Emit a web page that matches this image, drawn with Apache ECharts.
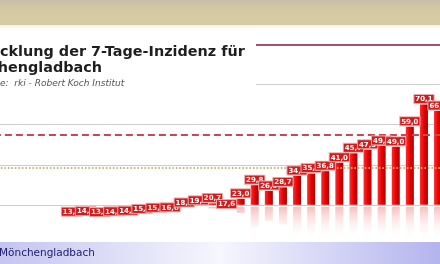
<!DOCTYPE html>
<html><head><meta charset="utf-8">
<script src="https://cdn.jsdelivr.net/npm/echarts@6/dist/echarts.min.js"></script>
<style>html,body{margin:0;padding:0;background:#fff;overflow:hidden}#c{width:440px;height:264px}</style>
</head><body><div id="c"></div>
<script>
// ---- data ----
const titleLine1 = 'Entwicklung der 7-Tage-Inzidenz für';
const titleLine2 = 'Mönchengladbach';
const sourceLine = 'Datenquelle:  rki - Robert Koch Institut';
const footerText = 'Mönchengladbach';
const days = ['T1','T2','T3','T4','T5','T6','T7','T8','T9','T10','T11','T12','T13','T14','T15','T16','T17',
  'T18','T19','T20','T21','T22','T23','T24','T25','T26','T27','T28','T29','T30','T31','T32','T33'];
const incidence = [null, null, null, null, null,
  13.8, 14.1, 13.6, 14.0, 14.3, 15.2, 15.8, 16.0, 18.4, 19.5, 20.7, 17.6, 23.0, 29.8, 26.9, 28.7,
  34.4, 35.6, 36.8, 41.0, 45.7, 47.5, 49.4, 49.0, 59.0, 70.1, 66.8, 86.2];
const yMin = 20, yMax = 100, yStep = 20;
const dashedLevel = 55;
const dottedLevel = 38.5;
const topLevel = 100;

// ---- helpers ----
const mctx = document.createElement('canvas').getContext('2d');
function tw(t, font) { mctx.font = font; return mctx.measureText(t).width; }
const f1 = 'bold 14.4px "DejaVu Sans"';
const f3 = 'italic 9px "DejaVu Sans"';
const off1 = tw('Entwi', f1);
const off3 = tw('Datenquell', f3);
const fmt = v => (v == null ? '' : v.toFixed(1).replace('.', ','));

const chart = echarts.init(document.getElementById('c'));
const gridL = -6.1, gridW = 465.3;
chart.setOption({
  animation: false,
  backgroundColor: '#ffffff',
  grid: [
    { left: gridL, width: gridW, top: 44.6, height: 160.2, outerBoundsMode: 'none', containLabel: false },
    { left: gridL, width: gridW, top: 207, height: 35, outerBoundsMode: 'none', containLabel: false }
  ],
  xAxis: [
    { type: 'category', data: days, gridIndex: 0, show: false },
    { type: 'category', data: days, gridIndex: 1, show: false }
  ],
  yAxis: [
    { type: 'value', gridIndex: 0, min: yMin, max: yMax, interval: yStep,
      axisLine: { show: false }, axisTick: { show: false }, axisLabel: { show: false },
      splitLine: { show: true, lineStyle: { color: '#cdcdcd', width: 1 } } },
    { type: 'value', gridIndex: 1, inverse: true, min: yMin, max: yMin + 35 / 2.0025, show: false,
      splitLine: { show: false } }
  ],
  series: [
    {
      type: 'bar', xAxisIndex: 0, yAxisIndex: 0, data: incidence, barWidth: 8, z: 2,
      itemStyle: { color: new echarts.graphic.LinearGradient(0, 0, 1, 0, [
        { offset: 0, color: '#ff2e2e' }, { offset: 0.55, color: '#e40000' }, { offset: 1, color: '#a80000' }]) },
      markLine: {
        silent: true, symbol: 'none', label: { show: false }, animation: false,
        data: [
          { yAxis: dashedLevel, lineStyle: { color: '#cc4656', width: 2, type: [7, 4] } },
          { yAxis: dottedLevel, lineStyle: { color: '#c4b474', width: 2, type: [1.5, 2] } },
          { yAxis: topLevel, lineStyle: { color: '#a3566a', width: 2, type: 'solid' } }
        ]
      }
    },
    {
      type: 'bar', xAxisIndex: 1, yAxisIndex: 1, data: incidence, barWidth: 8, silent: true,
      itemStyle: { color: new echarts.graphic.LinearGradient(0, 207, 0, 240, [
        { offset: 0, color: 'rgba(235,40,40,0.30)' }, { offset: 1, color: 'rgba(255,255,255,0)' }], true) }
    },
    {
      type: 'line', xAxisIndex: 0, yAxisIndex: 0, data: incidence, clip: false, z: 5,
      symbol: 'rect', symbolSize: 1, showSymbol: true, showAllSymbol: true,
      itemStyle: { color: 'rgba(0,0,0,0)' }, lineStyle: { width: 0, opacity: 0 },
      label: {
        show: true, position: 'top', distance: 1, formatter: p => fmt(p.value),
        color: '#ffffff', fontFamily: 'DejaVu Sans', fontWeight: 'bold', fontSize: 7, lineHeight: 7,
        backgroundColor: '#d01c1c', borderColor: '#f2aaaa', borderWidth: 1, padding: [1, 1, 0, 1]
      }
    }
  ],
  graphic: [
    { type: 'rect', z: 100, shape: { x: 0, y: 0, width: 440, height: 25 },
      style: { fill: new echarts.graphic.LinearGradient(0, 0, 0, 1, [
        { offset: 0, color: '#c7bfa8' }, { offset: 0.3, color: '#d2c7a2' }, { offset: 1, color: '#d6cca3' }]) } },
    { type: 'rect', z: 100, shape: { x: 0, y: 25, width: 440, height: 4 },
      style: { fill: new echarts.graphic.LinearGradient(0, 0, 0, 1, [
        { offset: 0, color: '#f3ece4' }, { offset: 1, color: '#ffffff' }]) } },
    { type: 'rect', z: 100, shape: { x: 0, y: 30, width: 256, height: 66 }, style: { fill: '#ffffff' } },
    { type: 'text', z: 101, style: { text: titleLine1, x: -off1, y: 52, font: f1, fill: '#1e1e1e', verticalAlign: 'middle' } },
    { type: 'text', z: 101, style: { text: titleLine2, x: -off1, y: 68, font: f1, fill: '#1e1e1e', verticalAlign: 'middle' } },
    { type: 'text', z: 101, style: { text: sourceLine, x: -off3, y: 84, font: f3, fill: '#555555', verticalAlign: 'middle' } },
    { type: 'rect', z: 100, shape: { x: 0, y: 242, width: 440, height: 22 },
      style: { fill: new echarts.graphic.LinearGradient(0, 0, 1, 0, [
        { offset: 0, color: '#c4c4f0' }, { offset: 0.5, color: '#f6f6fd' }, { offset: 1, color: '#b4b4ee' }]) } },
    { type: 'text', z: 101, style: { text: footerText, x: -1, y: 253, font: '10.5px "DejaVu Sans"', fill: '#1c1c70', verticalAlign: 'middle' } }
  ]
});
</script></body></html>
